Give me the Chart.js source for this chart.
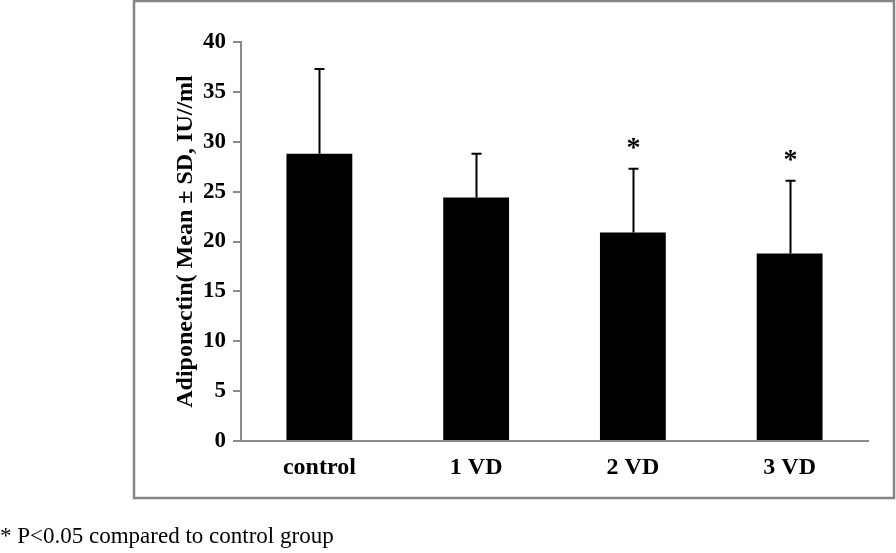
<!DOCTYPE html>
<html>
<head>
<meta charset="utf-8">
<script src="https://cdn.jsdelivr.net/npm/chart.js@4.4.0/dist/chart.umd.min.js"></script>
<style>
    html, body { margin: 0; padding: 0; background: #fff; }
    #wrap { position: relative; width: 896px; height: 553px; }
    #note {
        position: absolute; left: 0; top: 523px;
        font-family: "Liberation Serif", "Times New Roman", serif;
        font-size: 23px; color: #000; white-space: nowrap;
    }
</style>
</head>
<body>
<div id="wrap">
    <canvas id="chart" width="896" height="553"></canvas>
    <div id="note">* P&lt;0.05 compared to control group</div>
</div>
<script>
// Chart data
const groups = ['control', '1 VD', '2 VD', '3 VD'];
const means = [28.8, 24.4, 20.9, 18.8];
const sds = [8.5, 4.4, 6.4, 7.3];
const significant = [false, false, true, true];
const yTicks = [0, 5, 10, 15, 20, 25, 30, 35, 40];

const serif = '"Liberation Serif", "Times New Roman", serif';
const axisGray = '#8a8a8a';

// Outer frame around the plot
const framePlugin = {
    id: 'frame',
    beforeDraw(chart) {
        const ctx = chart.ctx;
        ctx.save();
        ctx.strokeStyle = '#858585';
        ctx.lineWidth = 2.5;
        ctx.strokeRect(134, 1, 760, 497);
        ctx.restore();
    }
};

// Upper error bars and significance stars
const errorBarPlugin = {
    id: 'errorBars',
    afterDatasetsDraw(chart) {
        const ctx = chart.ctx;
        const x = chart.scales.x;
        const y = chart.scales.y;
        ctx.save();
        ctx.strokeStyle = '#000';
        ctx.lineWidth = 2;
        means.forEach((m, i) => {
            const cx = Math.round(x.getPixelForValue(i)) + 0.5;
            const yBar = y.getPixelForValue(m);
            const yTop = y.getPixelForValue(m + sds[i]);
            ctx.beginPath();
            ctx.moveTo(cx, yBar);
            ctx.lineTo(cx, yTop);
            ctx.moveTo(cx - 5, yTop);
            ctx.lineTo(cx + 5, yTop);
            ctx.stroke();
            if (significant[i]) {
                ctx.fillStyle = '#000';
                ctx.font = 'bold 28px ' + serif;
                ctx.textAlign = 'center';
                ctx.textBaseline = 'middle';
                ctx.fillText('*', cx, yTop - 20);
            }
        });
        ctx.restore();
    }
};

const ctx = document.getElementById('chart').getContext('2d');
new Chart(ctx, {
    type: 'bar',
    data: {
        labels: groups,
        datasets: [{
            data: means,
            backgroundColor: '#000',
            borderWidth: 0,
            categoryPercentage: 1,
            barPercentage: 0.42
        }]
    },
    options: {
        responsive: false,
        animation: false,
        layout: { padding: { left: 171, right: 28, top: 42, bottom: 0 } },
        plugins: {
            legend: { display: false },
            tooltip: { enabled: false }
        },
        scales: {
            x: {
                afterFit(scale) { scale.height = 112; },
                grid: { display: false, drawTicks: false },
                border: { display: true, color: axisGray, width: 2 },
                ticks: {
                    color: '#000',
                    padding: 12,
                    font: { family: serif, size: 24, weight: 'bold' }
                }
            },
            y: {
                min: 0,
                max: 40,
                afterFit(scale) { scale.width = 70; },
                afterBuildTicks(scale) { scale.ticks = yTicks.map(v => ({ value: v })); },
                grid: { drawOnChartArea: false, drawTicks: true, tickLength: 8, color: axisGray, lineWidth: 2 },
                border: { display: true, color: axisGray, width: 2 },
                ticks: {
                    color: '#000',
                    padding: 7,
                    font: { family: serif, size: 23, weight: 'bold' }
                },
                title: {
                    display: true,
                    text: 'Adiponectin( Mean ± SD, IU//ml',
                    color: '#000',
                    padding: 0,
                    font: { family: serif, size: 24, weight: 'bold' }
                }
            }
        }
    },
    plugins: [framePlugin, errorBarPlugin]
});
</script>
</body>
</html>
